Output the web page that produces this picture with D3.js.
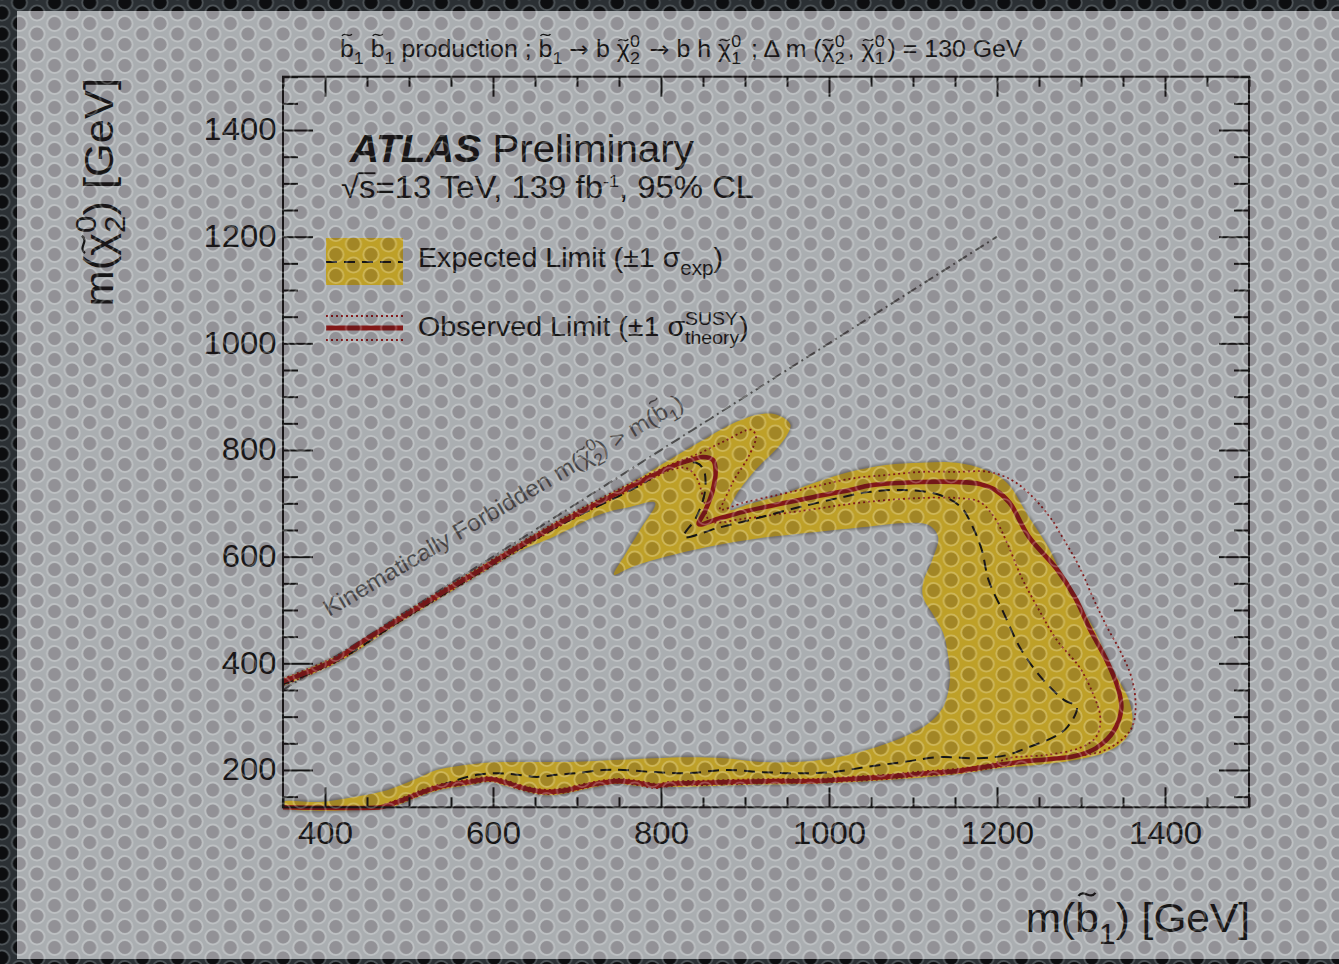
<!DOCTYPE html>
<html>
<head>
<meta charset="utf-8">
<script src="https://cdnjs.cloudflare.com/ajax/libs/d3/7.8.5/d3.min.js"></script>
<style>
  html, body { margin: 0; padding: 0; background: #2a2f32; }
  svg { display: block; }
</style>
</head>
<body>
<svg id="chart" width="1339" height="964"></svg>
<script>
// ---------------------------------------------------------------
// Sbottom -> b chi2 -> b h chi1 exclusion limits, dm(chi2,chi1)=130 GeV
// Contours are given as [m(sbottom), m(chi2)] pairs in GeV.
// ---------------------------------------------------------------
const xDomain = [350, 1500];
const yDomain = [130, 1500];

const xMajorTicks = [400, 600, 800, 1000, 1200, 1400];
const xMinorTicks = [350, 450, 500, 550, 650, 700, 750, 850, 900, 950, 1050, 1100, 1150, 1250, 1300, 1350, 1450, 1500];
const yMajorTicks = [200, 400, 600, 800, 1000, 1200, 1400];
const yMinorTicks = [150, 250, 300, 350, 450, 500, 550, 650, 700, 750, 850, 900, 950, 1050, 1100, 1150, 1250, 1300, 1350, 1450, 1500];

// observed limit (solid)
const observed = [
  [350,366],[370,378],[394,393],[414,408],[442,438],[489,483],[537,530],[585,575],[632,620],[680,663],
  [727,702],[775,740],[811,768],[835,781],[850,787],[862,781],[865,762],[861,721],[852,684],[845,661],
  [870,672],[898,684],[942,699],[982,712],[1025,725],[1050,734],[1110,740],[1152,740],[1180,736],[1198,725],
  [1215,701],[1238,637],[1271,577],[1293,523],[1310,466],[1331,404],[1344,354],[1348,316],[1339,273],[1318,241],
  [1293,226],[1238,217],[1195,208],[1152,198],[1110,193],[1068,187],[1025,183],[982,179],[940,179],[898,178],
  [855,176],[812,174],[795,170],[771,176],[748,179],[715,172],[683,161],[660,159],[636,166],[612,178],
  [596,183],[573,178],[540,170],[517,159],[493,144],[471,132],[466,130],[350,130]
];

// observed limit, +1 sigma theory (dotted, larger exclusion)
const theoryUp = [
  [350,371],[414,414],[489,489],[585,581],[680,669],[775,746],[814,774],[846,794],[876,817],[907,838],
  [913,826],[904,787],[887,744],[874,701],[870,688],[898,701],[940,716],[982,731],[1025,746],[1068,753],
  [1110,759],[1152,759],[1190,759],[1217,744],[1238,719],[1263,674],[1280,631],[1298,581],[1314,524],[1331,468],
  [1348,419],[1361,369],[1365,318],[1361,281],[1348,256],[1323,234],[1280,224],[1238,215],[1195,204],[1152,194],
  [1110,189],[1068,183],[1025,179],[982,176],[940,176],[898,174],[855,172],[812,170],[795,166],[771,172],
  [748,176],[715,168],[683,157],[660,155],[636,162],[612,174],[596,179],[573,174],[540,166],[517,155],
  [493,140],[480,132],[478,130]
];

// observed limit, -1 sigma theory (dotted, smaller exclusion)
const theoryDown = [
  [350,359],[414,403],[489,478],[585,569],[680,658],[775,734],[812,763],[830,766],[842,749],[851,706],
  [858,667],[898,671],[940,680],[982,689],[1025,699],[1068,706],[1110,710],[1152,710],[1179,703],[1195,678],
  [1212,626],[1229,562],[1250,500],[1271,444],[1298,393],[1314,344],[1323,299],[1318,262],[1298,241],[1258,228],
  [1217,223],[1195,212],[1152,202],[1110,197],[1068,191],[1025,187],[982,183],[940,183],[898,182],[855,180],
  [812,178],[795,174],[771,180],[748,183],[715,176],[683,165],[660,163],[636,170],[612,182],[596,187],
  [573,182],[540,174],[517,163],[493,148],[466,132],[463,130]
];

// expected limit (dashed)
const expected = [
  [350,361],[414,404],[489,479],[585,571],[680,659],[775,734],[812,770],[842,776],[851,762],[852,719],
  [842,674],[827,637],[868,654],[914,672],[965,693],[1017,712],[1046,721],[1089,725],[1131,716],[1157,693],
  [1171,656],[1182,612],[1190,556],[1208,494],[1229,425],[1255,369],[1280,331],[1295,318],[1284,281],[1268,262],
  [1238,243],[1212,228],[1179,222],[1131,224],[1089,215],[1046,206],[1004,196],[961,194],[919,196],[876,200],
  [833,194],[792,196],[755,200],[731,200],[700,194],[676,191],[652,187],[629,191],[605,194],[581,191],
  [557,181],[533,168],[501,149],[469,132],[466,130]
];

// expected +1 sigma edge of the band (outer)
const expUp = [
  [350,371],[414,414],[489,489],[585,581],[680,669],[727,708],[775,748],[806,778],[846,815],[890,853],
  [918,867],[938,866],[954,848],[950,828],[938,803],[918,772],[904,747],[888,712],[882,688],[906,699],
  [940,714],[982,738],[1025,759],[1068,772],[1110,776],[1152,776],[1187,762],[1212,738],[1238,674],[1263,612],
  [1280,556],[1314,468],[1336,393],[1357,331],[1361,288],[1352,256],[1331,234],[1301,221],[1258,211],[1195,202],
  [1152,192],[1068,181],[982,174],[898,172],[812,168],[771,170],[748,174],[715,166],[683,155],[660,153],
  [636,161],[612,172],[596,178],[573,172],[540,164],[517,153],[493,138],[477,130],[350,130]
];

// expected -1 sigma edge of the band (inner)
const expDown = [
  [350,358],[414,401],[489,476],[585,568],[632,611],[669,635],[729,680],[763,693],[793,701],[775,650],
  [757,603],[744,566],[763,579],[792,594],[855,618],[919,635],[982,646],[1046,656],[1089,663],[1119,659],
  [1130,637],[1123,594],[1112,551],[1112,524],[1123,494],[1136,457],[1142,412],[1144,369],[1136,318],[1119,288],
  [1089,262],[1046,238],[1004,222],[961,215],[919,215],[876,222],[833,224],[792,222],[751,219],[692,215],
  [632,215],[588,213],[557,207],[533,200],[505,181],[474,162],[433,149],[394,140],[350,140]
];

// kinematic boundary m(chi2) = m(sbottom)
const kinematicLimit = [[350, 350], [1200, 1200]];

// ---------------------------------------------------------------
const W = 1339, H = 964;
const FONT = '"Liberation Sans", Arial, Helvetica, sans-serif';
const INK = '#151515';
const RED = '#821818';
const YELLOW = '#bea028';
const GREY_LINE = '#4c4c4c';
const PANEL = '#aaaeb1';
const TEXT_STRETCH = 1.06;

const plot = { left: 283, right: 1249, top: 76.7, bottom: 807.3 };

const svg = d3.select('#chart');
const defs = svg.append('defs');

// halftone screen over the whole picture
function halftone(id, bg, ring, dot) {
  const cw = 35.16, ch = 21;
  const p = defs.append('pattern').attr('id', id)
    .attr('patternUnits', 'userSpaceOnUse')
    .attr('x', 37).attr('y', 13).attr('width', cw).attr('height', ch);
  if (bg) p.append('rect').attr('width', cw).attr('height', ch).attr('fill', bg);
  const centres = [[0, 0], [cw, 0], [0, ch], [cw, ch], [cw / 2, ch / 2]];
  centres.forEach(([cx, cy]) => {
    p.append('circle').attr('cx', cx).attr('cy', cy).attr('r', 7.6)
      .attr('fill', 'none').attr('stroke', ring).attr('stroke-width', 1.8);
    p.append('circle').attr('cx', cx).attr('cy', cy).attr('r', 6.5).attr('fill', dot);
  });
}
halftone('screenDark', '#2b3034', '#4f5559', '#0d0e10');
halftone('screenLight', null, 'rgba(255,255,255,0.23)', 'rgba(45,22,32,0.19)');

const soft = defs.append('filter').attr('id', 'soft').attr('x', '-5%').attr('y', '-5%').attr('width', '110%').attr('height', '110%');
soft.append('feGaussianBlur').attr('stdDeviation', 1.3);

svg.append('rect').attr('width', W).attr('height', H).attr('fill', 'url(#screenDark)');
svg.append('rect').attr('x', 17).attr('y', 11).attr('width', W - 17).attr('height', 948).attr('fill', PANEL);

// scales
const x = d3.scaleLinear().domain(xDomain).range([plot.left, plot.right]);
const y = d3.scaleLinear().domain(yDomain).range([plot.bottom, plot.top]);

const curve = d3.curveCatmullRom.alpha(0.5);
const line = d3.line().x(d => x(d[0])).y(d => y(d[1])).curve(curve);

// expected +-1 sigma band
const bandPts = expUp.concat(expDown.slice().reverse());
const bandPath = line(bandPts) + 'Z';
svg.append('path').attr('d', bandPath).attr('fill', 'none')
  .attr('stroke', 'rgba(105,105,100,0.7)').attr('stroke-width', 3.2).attr('filter', 'url(#soft)');
svg.append('path').attr('d', bandPath).attr('fill', YELLOW).attr('stroke', 'none');

// kinematic boundary
svg.append('path').attr('d', d3.line().x(d => x(d[0])).y(d => y(d[1]))(kinematicLimit))
  .attr('fill', 'none').attr('stroke', GREY_LINE).attr('stroke-width', 2)
  .attr('stroke-dasharray', '10,4,2,4');

// theory variations
[theoryUp, theoryDown].forEach(c => {
  svg.append('path').attr('d', line(c)).attr('fill', 'none')
    .attr('stroke', RED).attr('stroke-width', 1.8).attr('stroke-dasharray', '2,3');
});

// expected
svg.append('path').attr('d', line(expected)).attr('fill', 'none')
  .attr('stroke', INK).attr('stroke-width', 2).attr('stroke-dasharray', '11,7');

// observed
svg.append('path').attr('d', line(observed)).attr('fill', 'none')
  .attr('stroke', RED).attr('stroke-width', 4.6).attr('stroke-linejoin', 'round');

// frame and axes
svg.append('rect').attr('x', plot.left).attr('y', plot.top)
  .attr('width', plot.right - plot.left).attr('height', plot.bottom - plot.top)
  .attr('fill', 'none').attr('stroke', INK).attr('stroke-width', 2);

function drawAxis(gen, tx, ty) {
  const g = svg.append('g').attr('transform', `translate(${tx},${ty})`).call(gen);
  g.select('.domain').remove();
  g.selectAll('.tick line').attr('stroke', INK).attr('stroke-width', 2);
  g.selectAll('.tick text').attr('fill', INK).attr('font-size', 31)
    .attr('font-family', FONT).attr('transform', `scale(${TEXT_STRETCH},1)`);
  return g;
}
const noLabel = () => '';
drawAxis(d3.axisBottom(x).tickValues(xMinorTicks).tickSizeInner(-10).tickSizeOuter(0).tickFormat(noLabel), 0, plot.bottom);
drawAxis(d3.axisBottom(x).tickValues(xMajorTicks).tickSizeInner(-20).tickSizeOuter(0).tickPadding(15).tickFormat(d3.format('d')), 0, plot.bottom);
drawAxis(d3.axisTop(x).tickValues(xMinorTicks).tickSizeInner(-10).tickSizeOuter(0).tickFormat(noLabel), 0, plot.top);
drawAxis(d3.axisTop(x).tickValues(xMajorTicks).tickSizeInner(-20).tickSizeOuter(0).tickFormat(noLabel), 0, plot.top);
drawAxis(d3.axisLeft(y).tickValues(yMinorTicks).tickSizeInner(-15).tickSizeOuter(0).tickFormat(noLabel), plot.left, 0);
drawAxis(d3.axisLeft(y).tickValues(yMajorTicks).tickSizeInner(-30).tickSizeOuter(0).tickPadding(6).tickFormat(d3.format('d')), plot.left, 0);
drawAxis(d3.axisRight(y).tickValues(yMinorTicks).tickSizeInner(-15).tickSizeOuter(0).tickFormat(noLabel), plot.right, 0);
drawAxis(d3.axisRight(y).tickValues(yMajorTicks).tickSizeInner(-30).tickSizeOuter(0).tickFormat(noLabel), plot.right, 0);

// ---------------------------------------------------------------
// text with sub/superscripts and accents
function richText(parts, o) {
  const size = o.size;
  const s = o.stretch != null ? o.stretch : TEXT_STRETCH;
  const fill = o.fill || INK;
  const g = svg.append('g')
    .attr('transform', `translate(${o.x},${o.y}) rotate(${o.angle || 0}) scale(${s},1)`);
  const inner = g.append('g');
  let cx = 0;
  function run(str, px, py, fs, extra) {
    extra = extra || {};
    const t = inner.append('text').attr('x', px).attr('y', py)
      .attr('font-size', fs).attr('font-family', extra.family || FONT).attr('fill', fill)
      .attr('xml:space', 'preserve').style('white-space', 'pre').text(str);
    if (extra.weight) t.attr('font-weight', extra.weight);
    if (extra.style) t.attr('font-style', extra.style);
    return t.node().getComputedTextLength();
  }
  parts.forEach(p => {
    if (typeof p === 'string') { cx += run(p, cx, 0, size); return; }
    if (p.text != null) { cx += run(p.text, cx, (p.dy || 0) * size, size * (p.scale || 1), p); return; }
    if (p.accent != null) {
      const w = run(p.accent, cx, 0, size);
      const ty = p.tall ? -0.94 * size : -0.72 * size;
      const tw = 0.40 * size, th = 0.075 * size;
      inner.append('path')
        .attr('d', `M${-tw / 2},${th / 2} C${-tw / 6},${-th * 1.9} ${tw / 6},${th * 1.9} ${tw / 2},${-th / 2}`)
        .attr('transform', `translate(${cx + w / 2},${ty})`)
        .attr('fill', 'none').attr('stroke', fill).attr('stroke-width', 0.055 * size);
      cx += w; return;
    }
    if (p.radical != null) {
      const w1 = run('\u221A', cx, 0, size);
      const w2 = run(p.radical, cx + w1, 0, size);
      inner.append('line').attr('x1', cx + w1 - 0.02 * size).attr('x2', cx + w1 + w2)
        .attr('y1', -0.80 * size).attr('y2', -0.80 * size)
        .attr('stroke', fill).attr('stroke-width', 0.06 * size);
      cx += w1 + w2; return;
    }
    const sm = size * (p.scale || 0.72);
    let adv = 0;
    if (p.sup != null) adv = Math.max(adv, run(p.sup, cx, -(p.raise || 0.42) * size, sm));
    if (p.sub != null) adv = Math.max(adv, run(p.sub, cx, 0.30 * size, sm));
    cx += adv + (p.pad || 0) * size;
  });
  const shift = o.anchor === 'end' ? -cx : (o.anchor === 'middle' ? -cx / 2 : 0);
  inner.attr('transform', `translate(${shift},0)`);
  return cx;
}

const sb = { accent: 'b', tall: true };
const chi = { accent: '\u03C7' };
const arrow = { text: '\u2192', family: '"DejaVu Sans", sans-serif', scale: 0.95 };
const st = (sup, sub) => ({ sup, sub, pad: 0.12 });

// process title
richText([sb, { sub: '1' }, ' ', sb, { sub: '1' }, ' production ; ', sb, { sub: '1' },
  ' ', arrow, ' b ', chi, st('0', '2'), ' ', arrow, ' b h ', chi, st('0', '1'),
  ' ; \u0394 m (', chi, st('0', '2'), ', ', chi, st('0', '1'), ') = 130 GeV'],
  { x: 340, y: 57, size: 23.5 });

// experiment label
richText([{ text: 'ATLAS', weight: 'bold', style: 'italic' }, ' Preliminary'], { x: 350, y: 162, size: 38 });
richText([{ radical: 's' }, '=13 TeV, 139 fb', { sup: '-1', scale: 0.55, raise: 0.37 }, ', 95% CL'], { x: 341, y: 198, size: 31 });

// legend
svg.append('rect').attr('x', 326).attr('y', 238).attr('width', 77).attr('height', 47).attr('fill', YELLOW);
svg.append('line').attr('x1', 326).attr('x2', 403).attr('y1', 262).attr('y2', 262)
  .attr('stroke', INK).attr('stroke-width', 2).attr('stroke-dasharray', '11,7');
richText(['Expected Limit (\u00B11 \u03C3', { sub: 'exp' }, ')'], { x: 418, y: 267, size: 27 });

svg.append('line').attr('x1', 326).attr('x2', 403).attr('y1', 328).attr('y2', 328)
  .attr('stroke', RED).attr('stroke-width', 5);
[316, 340].forEach(ly => svg.append('line').attr('x1', 326).attr('x2', 403).attr('y1', ly).attr('y2', ly)
  .attr('stroke', RED).attr('stroke-width', 1.8).attr('stroke-dasharray', '2,3'));
richText(['Observed Limit (\u00B11 \u03C3', { sup: 'SUSY', sub: 'theory', scale: 0.68 }, ')'], { x: 418, y: 336, size: 27 });

// kinematic boundary label
richText(['Kinematically Forbidden m(', chi, { sup: '0', sub: '2' }, ') > m(', sb, { sub: '1' }, ')'],
  { x: 329, y: 617, size: 23, angle: -30.5, fill: '#4a4a4a' });

// axis titles
richText(['m(', sb, { sub: '1' }, ') [GeV]'], { x: 1250, y: 932, size: 40, anchor: 'end' });
richText(['m(', chi, { sup: '0', sub: '2' }, ') [GeV]'], { x: 113, y: 78, size: 41, anchor: 'end', angle: -90 });

// screen over the light panel
svg.append('rect').attr('x', 17).attr('y', 11).attr('width', W - 17).attr('height', 948)
  .attr('fill', 'url(#screenLight)').attr('pointer-events', 'none');
</script>
</body>
</html>
